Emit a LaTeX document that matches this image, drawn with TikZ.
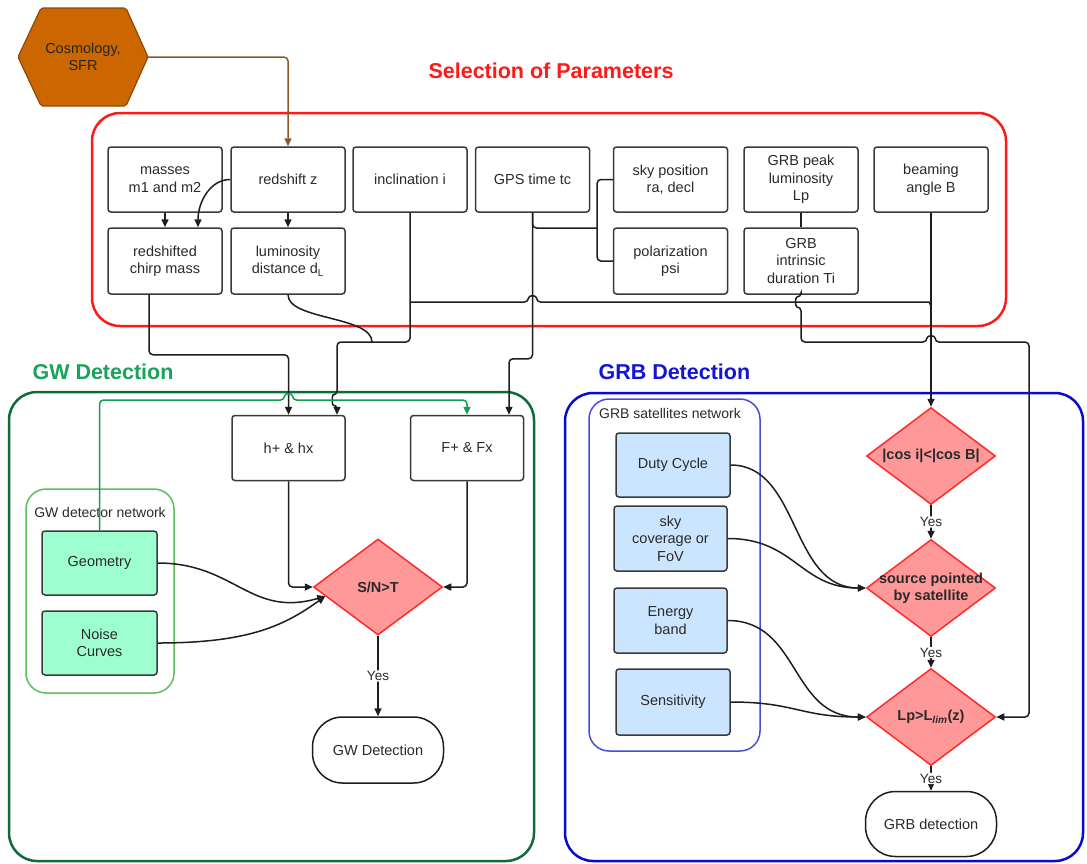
\documentclass[tikz,border=0pt]{standalone}
\usepackage{fontspec}
\setmainfont{Liberation Sans}
\usetikzlibrary{arrows.meta,shapes.geometric,calc}
\definecolor{redframe}{HTML}{FF1A1A}
\definecolor{boxborder}{HTML}{3A3A3A}
\definecolor{txt}{HTML}{2A2A2A}
\definecolor{wirecol}{HTML}{1E1E1E}
\definecolor{hexfill}{HTML}{CC6600}
\definecolor{hexborder}{HTML}{8A4A10}
\definecolor{brownwire}{HTML}{8B5A2B}
\definecolor{gwframe}{HTML}{0E6B3A}
\definecolor{gwtitle}{HTML}{1AA35A}
\definecolor{gwnet}{HTML}{5CBF5C}
\definecolor{greenwire}{HTML}{12A050}
\definecolor{mint}{HTML}{9DFFCF}
\definecolor{grbframe}{HTML}{0A0ACC}
\definecolor{grbtitle}{HTML}{1414D4}
\definecolor{grbnet}{HTML}{4B4BDB}
\definecolor{lightblue}{HTML}{CCE5FF}
\definecolor{diafill}{HTML}{FF9999}
\definecolor{diaborder}{HTML}{FF2A2A}
\begin{document}
\begin{tikzpicture}[x=1pt,y=-1pt,
  every node/.style={font=\fontsize{14.5}{17.5}\selectfont, text=txt},
  pbox/.style={draw=boxborder, line width=1.5pt, rounded corners=3pt, fill=white, minimum width=114pt, minimum height=65pt, inner sep=1pt, align=center},
  gbox/.style={pbox, fill=mint},
  bbox/.style={pbox, fill=lightblue},
  dia/.style={diamond, draw=diaborder, fill=diafill, line width=1.5pt, minimum width=129pt, minimum height=97pt, inner sep=0pt},
  diatext/.style={font=\fontsize{14.5}{17.5}\selectfont\bfseries, align=center, text=txt},
  termbox/.style={draw=wirecol, line width=1.5pt, rounded corners=30pt, fill=white, minimum width=131pt, minimum height=66pt},
  wire/.style={draw=wirecol, line width=1.5pt, rounded corners=4pt},
  arr/.style={wire, -{Triangle[length=8pt,width=7pt]}},
  yeslbl/.style={font=\fontsize{13.5}{16}\selectfont, fill=white, inner sep=1pt},
  bigframe/.style={line width=2.5pt, rounded corners=28pt},
  ttl/.style={font=\fontsize{21.5}{24}\selectfont\bfseries, anchor=west},
  netframe/.style={line width=1.5pt, rounded corners=20pt},
  netlabel/.style={font=\fontsize{14}{16}\selectfont},
]
\useasboundingbox (0,0) rectangle (1087,863);
\fill[white] (0,0) rectangle (1087,863);

% frames and titles
\draw[bigframe, draw=redframe] (92,113) rectangle (1006,326);
\node[ttl, text=redframe] (selt) at (425,71) {Selection of Parameters};
\draw[bigframe, draw=gwframe] (9,392) rectangle (534,861);
\node[ttl, text=gwtitle] (gwt) at (29,372) {GW Detection};
\draw[netframe, draw=gwnet] (26,489) rectangle (174,693);
\node[netlabel] (gwnl) at (100,512) {GW detector network};
\draw[bigframe, draw=grbframe] (565,393) rectangle (1083,861);
\node[ttl, text=grbtitle] (grbt) at (595,372) {GRB Detection};
\draw[netframe, draw=grbnet] (589,399) rectangle (760,751);
\node[netlabel] (grbnl) at (670,413) {GRB satellites network};

% hexagon
\filldraw[fill=hexfill, draw=hexborder, line width=1.2pt, rounded corners=2pt] (18,57) -- (41,8) -- (126,8) -- (148,57) -- (126,106) -- (41,106) -- cycle;
\node[minimum width=130pt, minimum height=98pt, inner sep=0pt, align=center, text=black!85] (cosmo) at (83,57) {Cosmology,\\SFR};

% parameter boxes
\node[pbox] (masses) at (165,179.5) {masses\\m1 and m2};
\node[pbox] (redshift) at (288,179.5) {redshift z};
\node[pbox] (incl) at (410,179.5) {inclination i};
\node[pbox] (gps) at (532.5,179.5) {GPS time tc};
\node[pbox] (sky) at (670.5,179.5) {sky position\\ra, decl};
\node[pbox] (lpeak) at (801,179.5) {GRB peak\\luminosity\\Lp};
\node[pbox] (beam) at (931,179.5) {beaming\\angle B};
\node[pbox, minimum height=66pt] (chirp) at (165,261) {redshifted\\chirp mass};
\node[pbox, minimum height=66pt] (lumdist) at (288,261) {luminosity\\distance d\textsubscript{L}};
\node[pbox, minimum height=66pt] (psi) at (670.5,261) {polarization\\psi};
\node[pbox, minimum height=66pt] (ti) at (801,261) {GRB\\intrinsic\\duration Ti};

% GW part
\node[pbox, minimum width=113pt] (hpx) at (288.5,448) {h+ \& hx};
\node[pbox, minimum width=113pt] (fpx) at (467,448) {F+ \& Fx};
\node[gbox, minimum width=115pt, minimum height=64pt] (geom) at (99.5,563) {Geometry};
\node[gbox, minimum width=115pt, minimum height=64pt] (noise) at (99.5,643) {Noise\\Curves};
\node[dia, minimum height=96pt] (snt) at (378,587) {};
\node[diatext] (sntt) at (snt) {S/N>T};
\node[termbox] (gwdet) at (378,750) {GW Detection};

% GRB part
\node[bbox, minimum height=64pt] (dc) at (673,465) {Duty Cycle};
\node[bbox, minimum width=113pt] (skycov) at (670.5,538.5) {sky\\coverage or\\FoV};
\node[bbox, minimum width=113pt] (eb) at (670.5,620.5) {Energy\\band};
\node[bbox, minimum height=66pt] (sens) at (673,702) {Sensitivity};
\node[dia] (cosi) at (931,456) {};
\node[diatext] (cosit) at (cosi) {|cos i|<|cos B|};
\node[dia] (spt) at (931,588) {};
\node[diatext] (sptt) at (spt) {source pointed\\by satellite};
\node[dia] (lpl) at (931,717) {};
\node[diatext] (lplt) at (lpl) {Lp>L\textsubscript{\itshape lim}(z)};
\node[termbox, minimum height=65pt] (grbdet) at (931,824) {GRB detection};

% connectors: parameters
\draw[arr, draw=brownwire] (cosmo.east) -| (redshift.north);
\draw[arr] (masses.south) -- (chirp.north);
\draw[arr] (redshift.west) .. controls (210,179.5) and ($(chirp.north)+(33,-25)$) .. ($(chirp.north)+(33,0)$);
\draw[arr] (redshift.south) -- (lumdist.north);
\draw[wire] (lpeak.south) -- (ti.north);
\coordinate (bj) at (597,228);
\draw[wire] (sky.west) -| (bj) |- (psi.west);
\draw[wire] (gps.south) |- (bj);

% GPS -> F+
\draw[arr] (gps.south) -- ++(0,146) -| ($(fpx.north)+(42,0)$);
% chirp -> h+
\draw[arr] ($(chirp.south)+(-16,0)$) -- ++(0,60) -| (hpx.north);
% inclination -> h+
\coordinate (ij) at (337,342);
\draw[arr] (incl.south) |- (ij) -- (337,395) .. controls (332,395) and (332,405) .. (337,405) -- (ij |- hpx.north);
% luminosity distance joins
\draw[wire] (lumdist.south) .. controls (288,320) and (372,316) .. (372,342);
% inclination -> beaming line
\coordinate (hj) at (410,302);
\draw[wire] (hj) -- (528.5,302) .. controls (528.5,295) and (536.5,295) .. (536.5,302) -- (925,302) .. controls (929,302) and (931,304) .. (931,309);
% beaming -> cos condition
\draw[arr] (beam.south) -- (cosi.north);
% duration -> Lp>Llim
\draw[arr] (ti.south) -- (801,297) .. controls (795,297) and (795,307) .. (801,307) -- (801,342) -- (927,342) .. controls (927,335) and (935,335) .. (935,342) -- (1029,342) -- (1029,717) -- (lpl.east);

% green geometry line
\draw[wire, draw=greenwire, -{Triangle[length=8pt,width=7pt]}] (geom.north) |- (284.5,400) .. controls (284.5,393) and (292.5,393) .. (292.5,400) -| (fpx.north);

% GW detection
\draw[arr] (hpx.south) |- (snt.west);
\draw[arr] (fpx.south) |- (snt.east);
\draw[arr] (geom.east) .. controls (235,563) and (250,618) .. (snt.190);
\draw[arr] (noise.east) .. controls (250,643) and (285,625) .. (snt.190);
\draw[arr] (snt.south) -- node[yeslbl] (yes1) {Yes} (gwdet.north);

% GRB detection
\draw[arr] (dc.east) .. controls (800,465) and (790,588) .. (spt.west);
\draw[arr] (skycov.east) .. controls (795,538.5) and (800,588) .. (spt.west);
\draw[arr] (eb.east) .. controls (800,620.5) and (790,717) .. (lpl.west);
\draw[arr] (sens.east) .. controls (795,702) and (800,717) .. (lpl.west);
\draw[arr] (cosi.south) -- node[yeslbl] (yes2) {Yes} (spt.north);
\draw[arr] (spt.south) -- node[yeslbl] (yes3) {Yes} (lpl.north);
\draw[arr] (lpl.south) -- node[yeslbl] (yes4) {Yes} (grbdet.north);
\end{tikzpicture}
\end{document}
